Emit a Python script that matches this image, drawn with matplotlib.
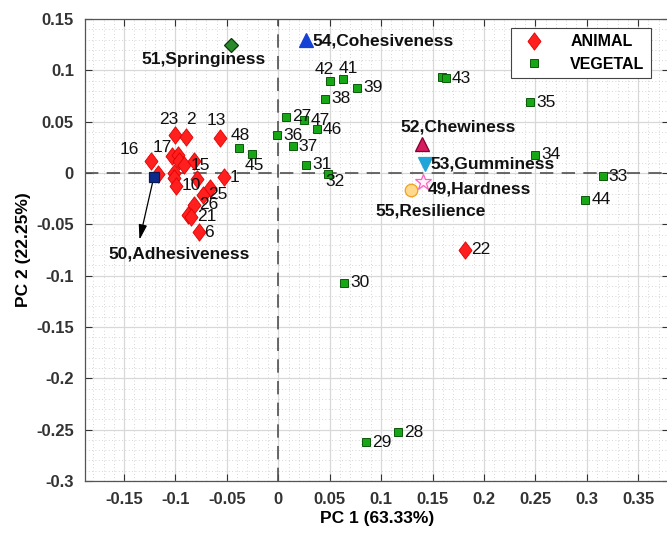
import numpy as np
import matplotlib
matplotlib.use("Agg")
import matplotlib.pyplot as plt
from matplotlib.path import Path
from matplotlib.ticker import MultipleLocator, FuncFormatter

plt.rcParams['font.family'] = ['Liberation Sans', 'DejaVu Sans']

# Animal samples (PC1, PC2, label)
animal_x = [-0.1005, -0.0898, -0.0567, -0.1239, -0.1174, -0.1038, -0.0980, -0.0963,
            -0.0915, -0.0824, -0.1018, -0.1012, -0.0995, -0.0795, -0.0532, -0.0661,
            -0.0736, -0.0824, -0.0882, -0.0850, -0.0775, 0.1820]
animal_y = [0.0375, 0.0348, 0.0342, 0.0114, -0.0010, 0.0163, 0.0179, 0.0114,
            0.0074, 0.0114, 0.0000, -0.0049, -0.0124, -0.0056, -0.0043, -0.0147,
            -0.0212, -0.0310, -0.0408, -0.0424, -0.0577, -0.0750]
animal_lbl = ['23', '2', '13', '16', '', '17', '', '',
              '15', '', '', '', '10', '', '1', '',
              '25', '26', '', '21', '6', '22']

# Vegetal samples (PC1, PC2, label)
veg_x = [0.0506, 0.0626, 0.0766, 0.0454, 0.0075, 0.0253, 0.0376, -0.0013,
         0.0139, 0.0269, 0.0486, 0.1590, 0.1630, -0.0380, -0.0260, 0.2497,
         0.3155, 0.2986, 0.2450, 0.0642, 0.1167, 0.0856]
veg_y = [0.0896, 0.0913, 0.0832, 0.0724, 0.0548, 0.0515, 0.0424, 0.0368,
         0.0260, 0.0081, -0.0007, 0.0935, 0.0923, 0.0245, 0.0189, 0.0179,
         -0.0033, -0.0261, 0.0687, -0.1069, -0.2525, -0.2624]
veg_lbl = ['42', '41', '39', '38', '27', '47', '46', '36',
           '37', '31', '32', '', '43', '48', '45', '34',
           '33', '44', '35', '30', '28', '29']

# Texture attribute loadings
attr_names = ['49,Hardness', '50,Adhesiveness', '51,Springiness', '52,Chewiness',
              '53,Gumminess', '54,Cohesiveness', '55,Resilience']
attr_x = [0.1409, -0.1210, -0.0460, 0.1395, 0.1425, 0.0272, 0.1290]
attr_y = [-0.0088, -0.0036, 0.1249, 0.0287, 0.0088, 0.1300, -0.0170]
adhesiveness_arrow_end = (-0.1350, -0.0650)

# label placement (pixel offsets) where it is not simply to the right
lbl_offset = {
    '23': (-6, 15, 'center'), '2': (5, 18, 'center'), '13': (-4, 17, 'center'),
    '16': (-22, 12, 'center'), '17': (-9, 9, 'center'),
    '48': (1, 12, 'center'), '45': (3, -12, 'center'), '42': (-6, 12, 'center'),
    '41': (6, 11, 'center'), '32': (7, -8, 'center'),
}
attr_style = {
    '49,Hardness': dict(marker='*', ms=12, mfc='#fff0fa', mec='#ff5fc0', off=(5, -7), ha='left'),
    '50,Adhesiveness': dict(marker='s', ms=7, mfc='#0b2a8c', mec='#0a1a50', off=(25, -77), ha='center'),
    '51,Springiness': dict(marker='D', ms=7, mfc='#2a8a2a', mec='#0a3a0a', off=(-27, -15), ha='center'),
    '52,Chewiness': dict(marker='^', ms=10.5, mfc='#d81b5c', mec='#800030', off=(36, 17), ha='center'),
    '53,Gumminess': dict(marker='v', ms=10.5, mfc='#1fa5d8', mec='#1fa5d8', off=(6, 0), ha='left'),
    '54,Cohesiveness': dict(marker='^', ms=10.5, mfc='#1541d6', mec='#1541d6', off=(6, -1), ha='left'),
    '55,Resilience': dict(marker='o', ms=9, mfc='#ffd98c', mec='#f0a020', off=(20, -21), ha='center'),
}

W, H, DPI = 667, 534, 100
fig = plt.figure(figsize=(W / DPI, H / DPI), dpi=DPI)
ax = fig.add_axes([85 / W, 53 / H, 584 / W, 462 / H])
ax.set_xlim(-0.188, 0.380)
ax.set_ylim(-0.3, 0.15)

# grid: solid major, dotted minor
ax.xaxis.set_major_locator(MultipleLocator(0.05))
ax.yaxis.set_major_locator(MultipleLocator(0.05))
ax.xaxis.set_minor_locator(MultipleLocator(0.01))
ax.yaxis.set_minor_locator(MultipleLocator(0.01))
ax.grid(which='major', color='#d8d8d8', lw=0.9, ls='-')
ax.grid(which='minor', color='#c8c8c8', lw=0.6, ls=(0, (1, 3)))
ax.set_axisbelow(True)
ax.tick_params(which='both', direction='in', top=True, right=True)
ax.tick_params(which='major', length=5, width=0.8, colors='#333333', labelsize=12)
ax.tick_params(axis='x', which='major', pad=8)
ax.tick_params(axis='y', which='major', pad=8)
ax.tick_params(which='minor', length=0)
fmt = FuncFormatter(lambda v, p: '%g' % round(v, 4) if abs(v) > 1e-9 else '0')
ax.xaxis.set_major_formatter(fmt)
ax.yaxis.set_major_formatter(fmt)
for lab in ax.get_xticklabels() + ax.get_yticklabels():
    lab.set_fontweight('bold')
for s in ax.spines.values():
    s.set_color('#555555')
    s.set_linewidth(0.9)

ax.axhline(0, color='#505050', lw=1.2, ls=(0, (8, 5)), zorder=1.5)
ax.axvline(0, color='#505050', lw=1.2, ls=(0, (8, 5)), zorder=1.5)

diamond = Path([(0, 1), (0.75, 0), (0, -1), (-0.75, 0), (0, 1)],
               [Path.MOVETO, Path.LINETO, Path.LINETO, Path.LINETO, Path.CLOSEPOLY])

ax.plot(animal_x, animal_y, ls='none', marker=diamond, ms=12.5, mfc='#ff1f1f',
        mec='#e00000', mew=0.6, zorder=3, label='ANIMAL')
ax.plot(veg_x, veg_y, ls='none', marker='s', ms=6.2, mfc='#16a616',
        mec='#0a5a0a', mew=0.7, zorder=3, label='VEGETAL')


def put_label(x, y, text):
    dx, dy, ha = lbl_offset.get(text, (6, 0, 'left'))
    ax.annotate(text, (x, y), xytext=(dx, dy), textcoords='offset pixels',
                ha=ha, va='center', fontsize=12.5, color='#111111', zorder=4)


for x, y, t in zip(animal_x, animal_y, animal_lbl):
    if t:
        put_label(x, y, t)
for x, y, t in zip(veg_x, veg_y, veg_lbl):
    if t:
        put_label(x, y, t)

for name, x, y in zip(attr_names, attr_x, attr_y):
    st = attr_style[name]
    ax.plot([x], [y], ls='none', marker=st['marker'], ms=st['ms'], mfc=st['mfc'],
            mec=st['mec'], mew=0.9, zorder=5)
    ax.annotate(name, (x, y), xytext=st['off'], textcoords='offset pixels',
                ha=st['ha'], va='center', fontsize=12.5, fontweight='bold',
                color='#111111', zorder=6)

ax.annotate('', xy=adhesiveness_arrow_end, xytext=(attr_x[1], attr_y[1]),
            arrowprops=dict(arrowstyle='-|>,head_length=0.9,head_width=0.25',
                            color='black', lw=0.9, shrinkA=0, shrinkB=0), zorder=4)

leg = ax.legend(loc='upper right', bbox_to_anchor=(651 / W, 1 - 28 / H),
                bbox_transform=fig.transFigure, borderaxespad=0, fancybox=False,
                framealpha=1, edgecolor='#444444', prop=dict(weight='bold', size=11.5),
                handletextpad=1.3, borderpad=0.4, labelspacing=0.45, handlelength=2.0,
                markerscale=1.0)
leg.get_frame().set_linewidth(0.8)

ax.set_xlabel('PC 1 (63.33%)', fontsize=12.5, fontweight='bold', labelpad=3)
ax.set_ylabel('PC 2 (22.25%)', fontsize=12.5, fontweight='bold', labelpad=4)

fig.savefig('out.png', dpi=DPI)
